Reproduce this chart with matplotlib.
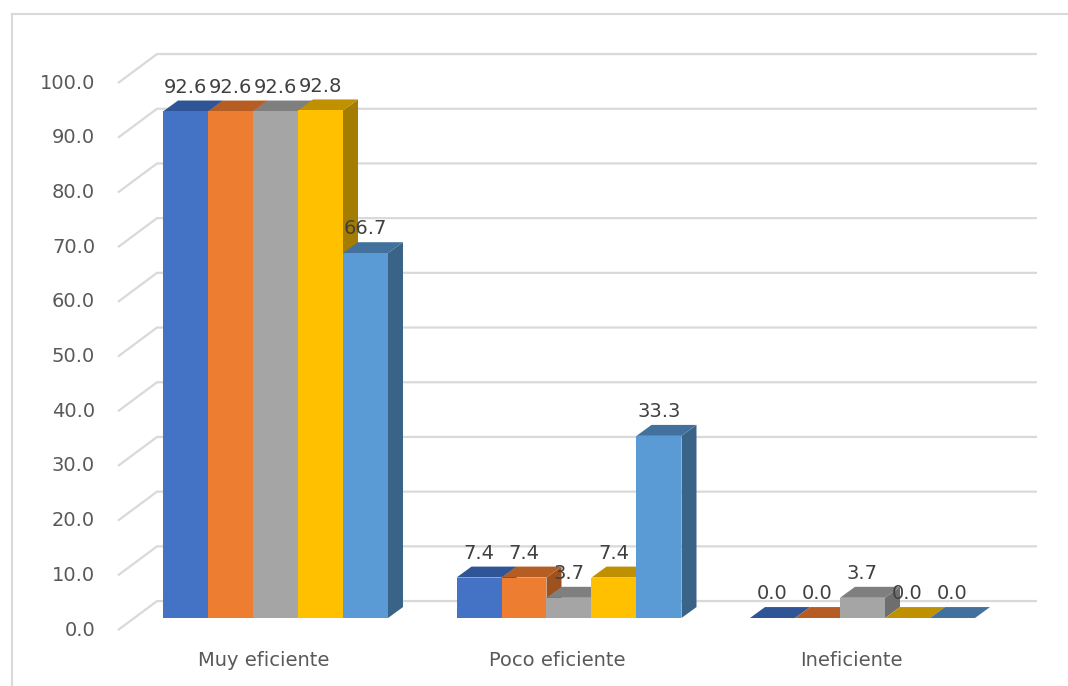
import matplotlib
matplotlib.use("Agg")
import matplotlib.pyplot as plt
from matplotlib.patches import Polygon
from matplotlib.lines import Line2D

# --- data ---
categories = ["Muy eficiente", "Poco eficiente", "Ineficiente"]
serie_1 = [92.6, 7.4, 0.0]
serie_2 = [92.6, 7.4, 0.0]
serie_3 = [92.6, 3.7, 3.7]
serie_4 = [92.8, 7.4, 0.0]
serie_5 = [66.7, 33.3, 0.0]
series = [serie_1, serie_2, serie_3, serie_4, serie_5]
yticks = [0, 10, 20, 30, 40, 50, 60, 70, 80, 90, 100]

# face colours: front, top, side
front_cols = ["#4472C4", "#ED7D31", "#A5A5A5", "#FFC000", "#5B9BD5"]
top_cols = ["#2F5597", "#B55D22", "#7F7F7F", "#BF9000", "#41719C"]
side_cols = ["#294B85", "#9E521E", "#6E6E6E", "#A37C00", "#3A6388"]

fig = plt.figure(figsize=(10.68, 6.86), dpi=100)
ax = fig.add_axes([0, 0, 1, 1])
ax.set_xlim(-0.9387, 2.7002)
ax.set_ylim(-12.43, 112.98)
ax.axis("off")

w = 45 / 293.5          # bar width
bdx, bdy = 0.0511, 2.0  # bar depth offset
front_x, back_x0, back_x1 = -0.5366, -0.4037, 2.5945
front_dv, back_dv = -2.2, 3.1
grid_col = "#D9D9D9"

# gridlines: front diagonal + back wall
for v in yticks:
    ax.plot([front_x, back_x0, back_x1], [v + front_dv, v + back_dv, v + back_dv],
            color=grid_col, lw=1.6, zorder=1, solid_capstyle="butt")
    ax.text(-0.615, v + front_dv, f"{v:.1f}", ha="right", va="center",
            fontsize=14, color="#595959")

# bars with fake 3d faces
for g, cat in enumerate(categories):
    for j, s in enumerate(series):
        v = s[g]
        xl = g - 2.5 * w + j * w
        z = 3 + j
        side = Polygon([(xl + w, 0), (xl + w + bdx, bdy), (xl + w + bdx, v + bdy), (xl + w, v)],
                       closed=True, facecolor=side_cols[j], edgecolor="none", zorder=z)
        top = Polygon([(xl, v), (xl + w, v), (xl + w + bdx, v + bdy), (xl + bdx, v + bdy)],
                      closed=True, facecolor=top_cols[j], edgecolor="none", zorder=z)
        ax.add_patch(side)
        ax.add_patch(top)
        ax.bar(xl, v, width=w, align="edge", color=front_cols[j], zorder=z, linewidth=0)
        ax.text(xl + w / 2, v + bdy + 2.45, f"{v:.1f}", ha="center", va="center",
                fontsize=14, color="#404040", zorder=20)
    ax.text(g - 0.039, -7.68, cat, ha="center", va="center", fontsize=14, color="#595959")

# outer chart border (partially visible)
fig.add_artist(Line2D([11.5 / 1068, 11.5 / 1068], [0, 1 - 14 / 686], color=grid_col, lw=1.5))
fig.add_artist(Line2D([11.5 / 1068, 1], [1 - 14 / 686, 1 - 14 / 686], color=grid_col, lw=1.5))

fig.savefig("out.png", dpi=100, facecolor="white")
